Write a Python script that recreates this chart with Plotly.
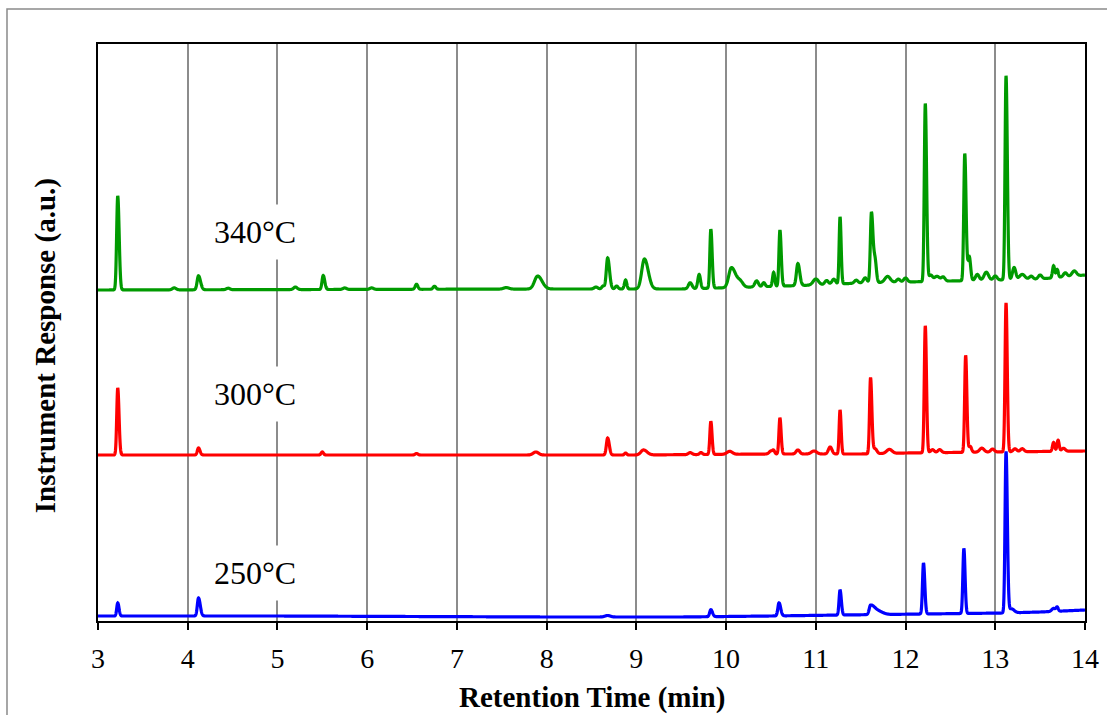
import numpy as np
import plotly.graph_objects as go

# Retention-time axis
x_ticks = [3, 4, 5, 6, 7, 8, 9, 10, 11, 12, 13, 14]

# Baseline levels (time, response) for each run
base_340 = [(3.0, 331), (8.0, 332), (9.5, 332), (10.3, 334), (11.0, 336), (11.5, 338),
            (12.5, 340), (13.5, 342), (14.0, 346)]
base_300 = [(3.0, 166), (9.0, 166), (10.5, 167), (11.5, 167), (12.0, 168), (13.0, 169),
            (14.0, 170)]
base_250 = [(3.0, 5), (5.0, 5), (8.0, 4), (9.5, 4), (10.5, 5), (11.3, 6), (12.2, 7),
            (13.1, 8), (13.5, 9), (14.0, 11)]

# Peak tables: (retention time, height, width, tailing factor)
peaks_340 = [
    (3.22, 94, 0.012, 1.3), (3.85, 2, 0.02, 1.0), (4.12, 14, 0.015, 1.5),
    (4.45, 1.5, 0.02, 1.0), (5.20, 2.5, 0.02, 1.0), (5.51, 14, 0.013, 1.3),
    (5.75, 1.5, 0.02, 1.0), (6.05, 1.5, 0.02, 1.0), (6.55, 5, 0.015, 1.0),
    (6.75, 3, 0.015, 1.0), (7.55, 1.5, 0.03, 1.0), (7.90, 13, 0.035, 1.4),
    (8.55, 2, 0.02, 1.0), (8.63, 3, 0.015, 1.0), (8.68, 31, 0.015, 1.4),
    (8.78, 3, 0.015, 1.0), (8.88, 9, 0.013, 1.0), (9.09, 30, 0.03, 1.4),
    (9.60, 6, 0.02, 1.0), (9.70, 14, 0.015, 1.0), (9.83, 59, 0.011, 1.3),
    (10.06, 20, 0.03, 1.6), (10.16, 5, 0.03, 1.0), (10.34, 6, 0.02, 1.0),
    (10.42, 4, 0.015, 1.0), (10.53, 14, 0.012, 1.0), (10.60, 56, 0.011, 1.3),
    (10.80, 22, 0.016, 1.3), (11.00, 6, 0.03, 1.0), (11.12, 4, 0.02, 1.0),
    (11.20, 5, 0.02, 1.0), (11.27, 67, 0.010, 1.2), (11.45, 3, 0.02, 1.0),
    (11.55, 5, 0.02, 1.0), (11.62, 70, 0.012, 1.4), (11.66, 22, 0.015, 1.0),
    (11.80, 6, 0.03, 1.0), (11.92, 3, 0.02, 1.0), (12.00, 4, 0.02, 1.0),
    (12.22, 178, 0.011, 1.3), (12.28, 6, 0.02, 1.0), (12.35, 5, 0.03, 1.0),
    (12.42, 4, 0.02, 1.0), (12.66, 127, 0.011, 1.3), (12.71, 24, 0.015, 1.0),
    (12.80, 6, 0.02, 1.0), (12.90, 8, 0.025, 1.0), (13.00, 4, 0.02, 1.0),
    (13.12, 204, 0.011, 1.3), (13.21, 12, 0.018, 1.0), (13.30, 5, 0.03, 1.0),
    (13.40, 3, 0.02, 1.0), (13.50, 4, 0.02, 1.0), (13.65, 12, 0.012, 1.0),
    (13.69, 8, 0.012, 1.0), (13.78, 4, 0.02, 1.0), (13.88, 5, 0.025, 1.0),
]
peaks_300 = [
    (3.22, 67, 0.011, 1.3), (4.12, 7, 0.013, 1.3), (5.50, 3, 0.013, 1.0),
    (6.55, 1.5, 0.015, 1.0), (7.88, 3, 0.03, 1.0), (8.68, 17, 0.014, 1.3),
    (8.88, 2, 0.012, 1.0), (9.08, 5, 0.03, 1.3), (9.60, 2, 0.02, 1.0),
    (9.72, 2, 0.015, 1.0), (9.83, 33, 0.011, 1.2), (10.04, 3, 0.03, 1.0),
    (10.50, 3, 0.02, 1.0), (10.53, 3, 0.012, 1.0), (10.60, 36, 0.011, 1.2),
    (10.80, 4, 0.02, 1.0), (10.98, 3, 0.03, 1.0), (11.16, 7, 0.02, 1.0),
    (11.27, 44, 0.010, 1.2), (11.61, 76, 0.011, 1.3), (11.66, 5, 0.02, 1.0),
    (11.82, 4, 0.03, 1.0), (12.22, 127, 0.011, 1.2), (12.30, 3, 0.02, 1.0),
    (12.38, 3, 0.02, 1.0), (12.67, 97, 0.011, 1.2), (12.72, 6, 0.015, 1.0),
    (12.85, 4, 0.025, 1.0), (12.97, 3, 0.02, 1.0), (13.12, 149, 0.011, 1.2),
    (13.22, 3, 0.02, 1.0), (13.30, 3, 0.02, 1.0), (13.65, 9, 0.012, 1.0),
    (13.70, 11, 0.012, 1.0), (13.76, 3, 0.02, 1.0),
]
peaks_250 = [
    (3.22, 13, 0.011, 1.3), (4.12, 18, 0.013, 1.5), (8.68, 1.5, 0.03, 1.0),
    (9.83, 7, 0.013, 1.4), (10.59, 13, 0.013, 1.4), (11.27, 25, 0.011, 1.3),
    (11.61, 9, 0.015, 3.0), (11.70, 3, 0.05, 1.0), (12.20, 51, 0.011, 1.3),
    (12.65, 65, 0.011, 1.2), (13.12, 161, 0.011, 1.3), (13.18, 4, 0.03, 1.0),
    (13.65, 3, 0.02, 1.0), (13.69, 4, 0.012, 1.0),
]

labels = ["340°C", "300°C", "250°C"]
label_pos = [(4.75, 389), (4.75, 227), (4.75, 48)]
colors = ["#009a00", "#ff0000", "#0000ff"]

t = np.arange(3.0, 14.0 + 1e-9, 0.002)


def trace_signal(baseline, peaks):
    bt, bv = zip(*baseline)
    y = np.interp(t, bt, bv)
    for rt, h, w, tail in peaks:
        s = np.where(t < rt, w, w * tail)
        y = y + h * np.exp(-0.5 * ((t - rt) / s) ** 2)
    return y


series = [
    (labels[0], base_340, peaks_340, colors[0]),
    (labels[1], base_300, peaks_300, colors[1]),
    (labels[2], base_250, peaks_250, colors[2]),
]

fig = go.Figure()
for name, base, pk, col in series[::-1]:
    fig.add_trace(go.Scatter(x=t, y=trace_signal(base, pk), mode="lines", name=name,
                             line=dict(color=col, width=3.2, simplify=False),
                             showlegend=False))

serif = "Liberation Serif, Times New Roman, serif"

annotations = []
for text, (lx, ly) in zip(labels, label_pos):
    annotations.append(dict(x=lx, y=ly, xref="x", yref="y", text=text, showarrow=False,
                            font=dict(family=serif, size=32, color="black"),
                            bgcolor="white", borderpad=9, xanchor="center", yanchor="middle"))

annotations.append(dict(x=0.5, y=-0.132, xref="paper", yref="paper",
                        text="<b>Retention Time (min)</b>", showarrow=False,
                        font=dict(family=serif, size=29, color="black"),
                        xanchor="center", yanchor="middle"))
annotations.append(dict(x=-0.0537, y=0.478, xref="paper", yref="paper",
                        text="<b>Instrument Response (a.u.)</b>", showarrow=False,
                        textangle=-90,
                        font=dict(family=serif, size=29, color="black"),
                        xanchor="center", yanchor="middle"))

fig.update_layout(
    width=1107, height=715,
    margin=dict(l=98, r=22, t=44, b=94),
    paper_bgcolor="white", plot_bgcolor="white",
    annotations=annotations,
    shapes=[dict(type="rect", xref="paper", yref="paper",
                 x0=-0.0922, y0=-0.2, x1=1.05, y1=1.0607,
                 line=dict(color="#8a8a8a", width=1.5), layer="below")],
)
fig.update_xaxes(range=[3, 14], tickvals=x_ticks, ticktext=[str(v) for v in x_ticks],
                 automargin=False,
                 showgrid=True, gridcolor="#8c8c8c", gridwidth=2,
                 showline=True, linecolor="black", linewidth=2, mirror=True,
                 ticks="outside", ticklen=7, tickwidth=2, tickcolor="black",
                 ticklabelstandoff=4,
                 tickfont=dict(family=serif, size=28, color="black"), zeroline=False)
fig.update_yaxes(range=[0, 577], showgrid=False, showticklabels=False, ticks="",
                 automargin=False,
                 showline=True, linecolor="black", linewidth=2, mirror=True, zeroline=False)

fig.write_html("out.html")
